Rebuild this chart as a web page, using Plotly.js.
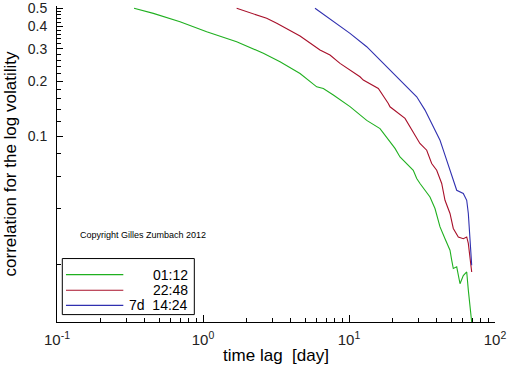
<!DOCTYPE html>
<html>
<head>
<meta charset="utf-8">
<script src="https://cdn.plot.ly/plotly-3.0.1.min.js"></script>
<style>html,body{margin:0;padding:0;background:#fff;}#chart{width:512px;height:366px;}</style>
</head>
<body>
<div id="chart"></div>
<script>
// Data
const seriesNames = ["01:12", "22:48", "7d  14:24"];

const greenX = [0.337,0.457,0.696,1.06,1.70,2.59,3.37,4.62,6.01,6.67,7.81,10.16,13.22,16.31,20.66,22.35,27.56,29.09,30.64,35.87,38.81,42.02,45.46,49.18,50.51,51.81,54.67,57.60,60.66,64.01,65.65,67.44,69.25];
const greenY = [0.5,0.469,0.422,0.372,0.328,0.284,0.255,0.220,0.186,0.182,0.168,0.145,0.122,0.110,0.0857,0.0770,0.0651,0.0587,0.0551,0.0465,0.0402,0.0319,0.0275,0.0238,0.0210,0.0189,0.0193,0.0156,0.0173,0.0181,0.0144,0.0116,0.0096];

const redX = [1.70,2.73,3.20,4.62,6.33,7.41,8.68,11.89,12.53,15.88,18.59,19.09,24.19,26.18,29.09,30.6,34.06,36.84,39.87,43.15,45.46,49.18,51.81,56.07,60.66,64.01,65.65,67.44,69.25];
const redY = [0.5,0.441,0.414,0.353,0.2955,0.2775,0.250,0.2112,0.2025,0.1824,0.1510,0.1447,0.1250,0.1124,0.0991,0.0912,0.0838,0.0709,0.0651,0.0551,0.0446,0.0378,0.0313,0.0281,0.0275,0.0281,0.0259,0.0218,0.0181];

const blueX = [5.85,7.81,10.16,13.22,13.93,17.18,20.11,22.35,29.09,33.16,35.87,37.79,42.02,44.26,49.18,54.67,60.66,64.01,65.65,67.44,68.5,69.25];
const blueY = [0.5,0.4222,0.3648,0.3083,0.2955,0.2500,0.220,0.2025,0.1641,0.1388,0.1224,0.1124,0.095,0.0838,0.0651,0.0506,0.0486,0.0446,0.0378,0.0281,0.0218,0.0197];

const xTickVals = [0.1, 1, 10, 100];
const xTickText = ["10<sup>-1</sup>", "10<sup>0</sup>", "10<sup>1</sup>", "10<sup>2</sup>"];
const xMinorVals = [0.2,0.3,0.4,0.5,0.6,0.7,0.8,0.9,2,3,4,5,6,7,8,9,20,30,40,50,60,70,80,90];
const yTickVals = [0.1, 0.2, 0.3, 0.4, 0.5];
const yTickText = ["0.1", "0.2", "0.3", "0.4", "0.5"];
const yMinorVals = [0.02,0.04,0.06,0.08,0.12,0.14,0.16,0.18,0.22,0.24,0.26,0.28,0.32,0.34,0.36,0.38,0.42,0.44,0.46,0.48];

const colors = ["#20b020", "#a8102a", "#3030b0"];
const FONT = "Liberation Sans, Arial, sans-serif";

const traces = [
  {x: greenX, y: greenY, name: seriesNames[0]},
  {x: redX, y: redY, name: seriesNames[1]},
  {x: blueX, y: blueY, name: seriesNames[2]}
].map((t, i) => Object.assign(t, {type: "scatter", mode: "lines", line: {color: colors[i], width: 1.1, shape: "linear"}, showlegend: false}));

// legend drawn in paper coords
const legY = [0.1501, 0.1004, 0.0529];
const shapes = [{type: "rect", xref: "paper", yref: "paper", x0: 0.0121, x1: 0.3135, y0: 0.0234, y1: 0.2008, line: {color: "#000", width: 1}}];
const annotations = [];
legY.forEach((yy, i) => {
  shapes.push({type: "line", xref: "paper", yref: "paper", x0: 0.0205, x1: 0.1514, y0: yy, y1: yy, line: {color: colors[i], width: 1.2}});
  annotations.push({xref: "paper", yref: "paper", x: 0.3037, y: yy, xanchor: "right", yanchor: "middle", text: seriesNames[i].replace(/ /g, "&nbsp;"), showarrow: false, font: {family: FONT, size: 14, color: "#000"}});
});
annotations.push({xref: "paper", yref: "paper", x: 0.0473, y: 0.2746, xanchor: "left", yanchor: "middle", text: "Copyright Gilles Zumbach 2012", showarrow: false, font: {family: FONT, size: 9, color: "#000"}});

const layout = {
  width: 512, height: 366,
  margin: {l: 57, r: 17, t: 6, b: 44, pad: 0},
  paper_bgcolor: "#fff", plot_bgcolor: "#fff",
  font: {family: FONT, color: "#000"},
  xaxis: {
    type: "log", range: [-1, 2], showgrid: false, zeroline: false,
    showline: true, linecolor: "#000", linewidth: 1, mirror: false,
    tickmode: "array", tickvals: xTickVals, ticktext: xTickText,
    ticks: "inside", ticklen: 7, tickcolor: "#000", tickwidth: 1,
    tickfont: {family: FONT, size: 15, color: "#222"},
    ticklabelstandoff: 4,
    minor: {tickmode: "array", tickvals: xMinorVals, ticks: "inside", ticklen: 4, tickcolor: "#000", showgrid: false},
    title: {text: "time lag&nbsp;&nbsp;[day]", font: {family: FONT, size: 17, color: "#000"}, standoff: 2}
  },
  yaxis: {
    type: "log", range: [-2.016, -0.2885], showgrid: false, zeroline: false,
    showline: true, linecolor: "#000", linewidth: 1, mirror: false,
    tickmode: "array", tickvals: yTickVals, ticktext: yTickText,
    ticks: "inside", ticklen: 6, tickcolor: "#000", tickwidth: 1,
    tickfont: {family: FONT, size: 14, color: "#222"},
    ticklabelstandoff: 6,
    minor: {tickmode: "array", tickvals: yMinorVals, ticks: "inside", ticklen: 4, tickcolor: "#000", showgrid: false},
    title: {text: "correlation for the log volatility", font: {family: FONT, size: 17, color: "#000"}, standoff: 6}
  },
  shapes: shapes,
  annotations: annotations,
  showlegend: false
};

Plotly.newPlot("chart", traces, layout, {displayModeBar: false, staticPlot: true});
</script>
</body>
</html>
